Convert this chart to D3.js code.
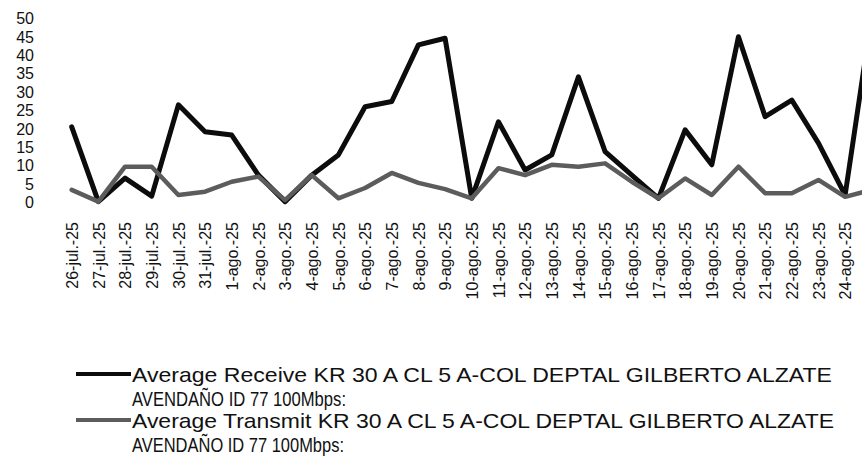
<!DOCTYPE html>
<html>
<head>
<meta charset="utf-8">
<script src="https://cdn.jsdelivr.net/npm/d3@7"></script>
<style>
  html, body { margin: 0; padding: 0; background: #fff; }
  svg { display: block; }
  text { font-family: "Liberation Sans", Arial, sans-serif; fill: #111; }
</style>
</head>
<body>
<svg id="chart" width="862" height="464"></svg>
<script>
// Daily averages (Mbps) for the KR 30 A CL 5 link
const dates = [
  "26-jul.-25", "27-jul.-25", "28-jul.-25", "29-jul.-25", "30-jul.-25", "31-jul.-25",
  "1-ago.-25", "2-ago.-25", "3-ago.-25", "4-ago.-25", "5-ago.-25", "6-ago.-25",
  "7-ago.-25", "8-ago.-25", "9-ago.-25", "10-ago.-25", "11-ago.-25", "12-ago.-25",
  "13-ago.-25", "14-ago.-25", "15-ago.-25", "16-ago.-25", "17-ago.-25", "18-ago.-25",
  "19-ago.-25", "20-ago.-25", "21-ago.-25", "22-ago.-25", "23-ago.-25", "24-ago.-25",
  "25-ago.-25"
];
// Dates labelled on the category axis (the last day runs past the right edge)
const dateLabels = dates.slice(0, 30);
const receive = [
  20.4, 0.1, 6.5, 1.6, 26.4, 19.1, 18.2, 7.3, 0.1, 7.3, 12.8, 25.9,
  27.3, 42.7, 44.5, 1.0, 21.8, 8.7, 12.8, 34.0, 13.7, 7.3, 1.0, 19.6,
  10.1, 44.9, 23.2, 27.7, 16.0, 1.9, 50.8
];
const transmit = [
  3.3, 0.1, 9.6, 9.6, 1.9, 2.8, 5.5, 6.9, 0.5, 7.3, 1.0, 3.8,
  7.9, 5.2, 3.5, 1.0, 9.2, 7.3, 10.1, 9.6, 10.5, 5.5, 1.0, 6.4,
  1.9, 9.6, 2.4, 2.4, 6.0, 1.4, 3.3
];
const yTicks = [0, 5, 10, 15, 20, 25, 30, 35, 40, 45, 50];
const legendLines = [
  ["Average Receive KR 30 A CL 5 A-COL DEPTAL GILBERTO ALZATE", "AVENDAÑO ID 77 100Mbps:"],
  ["Average Transmit KR 30 A CL 5 A-COL DEPTAL GILBERTO ALZATE", "AVENDAÑO ID 77 100Mbps:"]
];
// Set widths of the two legend text rows
const legendWidths = [[700, 214], [702, 212]];

const svg = d3.select("#chart");

const x = d3.scalePoint().domain(dates).range([71.7, 871.8]);
const y = d3.scaleLinear().domain([0, 50]).range([202, 18]);

// Value axis: stacked labels, no line or ticks
const yAxis = svg.append("g")
  .attr("transform", "translate(34,0)")
  .call(d3.axisLeft(y).tickValues(yTicks).tickSize(0).tickPadding(0).tickFormat(d3.format("d")));
yAxis.select(".domain").remove();
yAxis.selectAll("text")
  .attr("x", 0)
  .attr("dy", "0.36em")
  .style("font-size", "16px")
  .style("font-family", "'Liberation Sans', Arial, sans-serif")
  .attr("fill", "#111");

// Category axis: vertical date labels
const xAxis = svg.append("g")
  .attr("transform", "translate(0,222)")
  .call(d3.axisBottom(x).tickValues(dateLabels).tickSize(0).tickPadding(0));
xAxis.select(".domain").remove();
xAxis.selectAll("text")
  .attr("y", 0)
  .attr("x", 0)
  .attr("dy", "0.36em")
  .attr("transform", "rotate(-90)")
  .attr("text-anchor", "end")
  .style("font-size", "16px")
  .style("font-family", "'Liberation Sans', Arial, sans-serif")
  .attr("fill", "#111");

const line = d3.line()
  .x((d, i) => x(dates[i]))
  .y(d => y(d));

const series = [
  { values: receive, color: "#0c0c0c", width: 5 },
  { values: transmit, color: "#5c5c5c", width: 4.5 }
];

series.forEach(s => {
  svg.append("path")
    .datum(s.values)
    .attr("fill", "none")
    .attr("stroke", s.color)
    .attr("stroke-width", s.width)
    .attr("stroke-linejoin", "round")
    .attr("stroke-linecap", "round")
    .attr("d", line);
});

// Legend
const legend = svg.append("g");
const baselines = [382, 428];
legendLines.forEach((rows, k) => {
  const s = series[k];
  legend.append("line")
    .attr("x1", 76).attr("x2", 131)
    .attr("y1", baselines[k] - 8).attr("y2", baselines[k] - 8)
    .attr("stroke", s.color)
    .attr("stroke-width", 4);
  rows.forEach((t, j) => {
    legend.append("text")
      .attr("x", 132)
      .attr("y", baselines[k] + j * 23.5)
      .attr("textLength", legendWidths[k][j])
      .attr("lengthAdjust", "spacingAndGlyphs")
      .style("font-size", "21px")
      .text(t);
  });
});
</script>
</body>
</html>
